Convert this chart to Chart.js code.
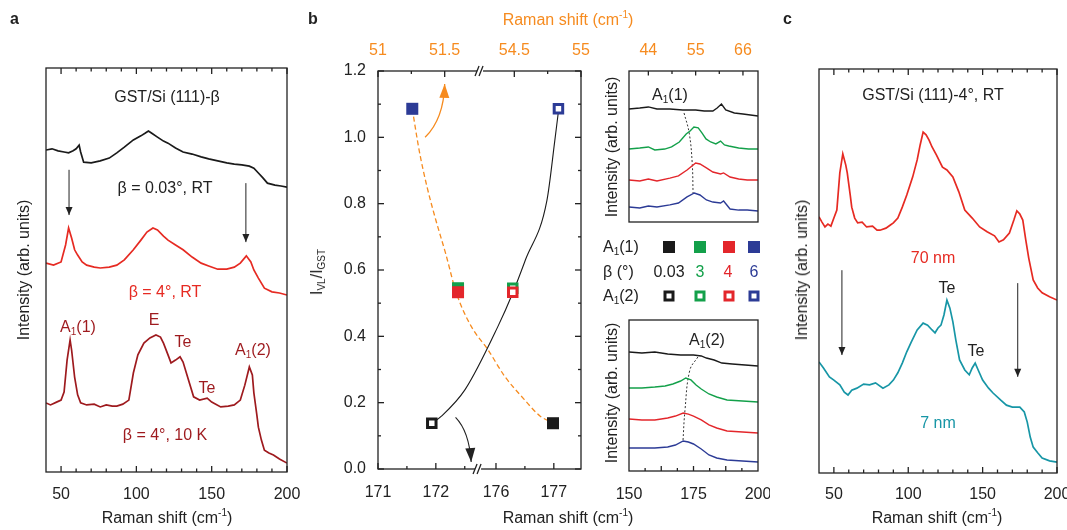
<!DOCTYPE html>
<html>
<head>
<meta charset="utf-8">
<script src="https://cdn.jsdelivr.net/npm/chart.js@4.4.1/dist/chart.umd.min.js"></script>
<style>
  body { margin: 0; background: #fff; }
  #page { position: relative; width: 1067px; height: 530px; overflow: hidden; font-family: "Liberation Sans", Arial, sans-serif; color: #222; }
  canvas { position: absolute; }
  .t { position: absolute; transform: translate(-50%, -50%); white-space: nowrap; font-size: 16px; line-height: 1; }
  .l { position: absolute; transform: translate(0, -50%); white-space: nowrap; font-size: 16px; line-height: 1; }
  .rot { transform: translate(-50%, -50%) rotate(-90deg); }
  .p { font-weight: bold; font-size: 16px; }
  sub { font-size: 10px; vertical-align: -3px; line-height: 0; }
  sup { font-size: 10px; vertical-align: 7px; line-height: 0; }
  .sq { position: absolute; width: 12px; height: 12px; transform: translate(-50%, -50%); box-sizing: border-box; }
  .op { width: 11px; height: 11px; border: 3px solid; background: #fff; }
</style>
</head>
<body>
<div id="page">
  <canvas id="chartA" width="300" height="530" style="left:0;top:0"></canvas>
  <canvas id="chartB" width="290" height="530" style="left:300px;top:0"></canvas>
  <canvas id="chartB1" width="180" height="230" style="left:590px;top:0"></canvas>
  <canvas id="chartB2" width="180" height="230" style="left:590px;top:300px"></canvas>
  <canvas id="chartC" width="287" height="530" style="left:780px;top:0"></canvas>

  <!-- panel a -->
  <div class="l p" style="left:10px;top:19px">a</div>
  <div class="t" style="left:167px;top:97px">GST/Si (111)-β</div>
  <div class="t" style="left:165px;top:188px">β = 0.03°, RT</div>
  <div class="t" style="left:165px;top:292px;color:#e62a22">β = 4°, RT</div>
  <div class="t" style="left:78px;top:327px;color:#9e1a1e">A<sub>1</sub>(1)</div>
  <div class="t" style="left:154px;top:320px;color:#9e1a1e">E</div>
  <div class="t" style="left:183px;top:342px;color:#9e1a1e">Te</div>
  <div class="t" style="left:207px;top:388px;color:#9e1a1e">Te</div>
  <div class="t" style="left:253px;top:350px;color:#9e1a1e">A<sub>1</sub>(2)</div>
  <div class="t" style="left:165px;top:435px;color:#9e1a1e">β = 4°, 10 K</div>
  <div class="t rot" style="left:24px;top:270px">Intensity (arb. units)</div>
  <div class="t" style="left:167px;top:518px">Raman shift (cm<sup>-1</sup>)</div>

  <!-- panel b -->
  <div class="l p" style="left:308px;top:19px">b</div>
  <div class="t" style="left:568px;top:20px;color:#f68b1f">Raman shift (cm<sup>-1</sup>)</div>
  <div class="t" style="left:568px;top:518px">Raman shift (cm<sup>-1</sup>)</div>
  <div class="t rot" style="left:317px;top:272px">I<sub>VL</sub>/I<sub>GST</sub></div>
  <div class="t rot" style="left:612px;top:147px">Intensity (arb. units)</div>
  <div class="t rot" style="left:612px;top:393px">Intensity (arb. units)</div>
  <div class="t" style="left:670px;top:95px">A<sub>1</sub>(1)</div>
  <div class="t" style="left:707px;top:340px">A<sub>1</sub>(2)</div>

  <div class="l" style="left:603px;top:247px">A<sub>1</sub>(1)</div>
  <div class="l" style="left:603px;top:272px">β (°)</div>
  <div class="l" style="left:603px;top:296px">A<sub>1</sub>(2)</div>
  <div class="sq" style="left:669px;top:247px;background:#1a1a1a"></div>
  <div class="sq" style="left:700px;top:247px;background:#13a04a"></div>
  <div class="sq" style="left:729px;top:247px;background:#e3262b"></div>
  <div class="sq" style="left:754px;top:247px;background:#2c3b96"></div>
  <div class="t" style="left:669px;top:272px">0.03</div>
  <div class="t" style="left:700px;top:272px;color:#13a04a">3</div>
  <div class="t" style="left:728px;top:272px;color:#e3262b">4</div>
  <div class="t" style="left:754px;top:272px;color:#2c3b96">6</div>
  <div class="sq op" style="left:669px;top:296px;border-color:#1a1a1a"></div>
  <div class="sq op" style="left:700px;top:296px;border-color:#13a04a"></div>
  <div class="sq op" style="left:729px;top:296px;border-color:#e3262b"></div>
  <div class="sq op" style="left:754px;top:296px;border-color:#2c3b96"></div>

  <!-- panel c -->
  <div class="l p" style="left:783px;top:19px">c</div>
  <div class="t" style="left:933px;top:95px">GST/Si (111)-4°, RT</div>
  <div class="t" style="left:933px;top:258px;color:#e62a22">70 nm</div>
  <div class="t" style="left:938px;top:423px;color:#1796a6">7 nm</div>
  <div class="t" style="left:947px;top:288px">Te</div>
  <div class="t" style="left:976px;top:351px">Te</div>
  <div class="t rot" style="left:802px;top:270px">Intensity (arb. units)</div>
  <div class="t" style="left:937px;top:518px">Raman shift (cm<sup>-1</sup>)</div>
</div>

<script>
// panel a: GST/Si (111) spectra, intensity in arb. units
const aBlackX = [40,44,48,52,55,58,60,62,63,65,70,76,82,87,92,98,103,106,108,110,114,118,121,126,131,137,143,148,154,160,165,170,175,178,181,184,187,192,196,200];
const aBlackY = [79.7,80.0,79.5,79.2,79.0,79.5,80.0,80.9,79.2,76.7,76.5,77.0,77.7,79.0,80.4,82.2,83.2,83.9,84.4,83.9,82.9,81.9,81.4,80.2,79.2,78.7,78.0,77.5,77.0,76.5,76.2,76.0,75.7,75.2,74.0,72.8,71.5,71.0,70.8,70.5];
const aRedX = [40,45,50,53,55,57,59,61,64,67,72,76,82,87,92,98,103,107,111,114,118,121,126,131,137,143,148,154,160,165,169,173,176,178,181,185,190,195,200];
const aRedY = [51.7,51.2,52.0,56.2,60.4,57.9,55.0,53.7,52.0,51.2,50.7,50.5,50.7,51.2,52.5,55.0,57.4,59.4,60.4,59.9,58.4,57.4,56.2,55.0,53.2,51.7,51.0,50.2,50.2,50.7,51.7,53.5,52.0,50.0,48.0,45.5,44.6,44.3,43.8];
const aLowX = [40,43,47,50,52,54,56,57,59,61,63,67,72,76,80,84,87,91,95,98,101,105,109,113,116,118,121,123,126,129,131,134,138,142,147,150,156,161,165,169,172,175,177,178,180,181,183,185,188,191,195,200];
const aLowY = [17.1,16.6,17.3,17.8,19.8,27.7,32.7,30.2,23.5,19.1,17.1,16.6,16.8,16.1,16.6,16.3,16.3,16.8,17.8,24.5,29.0,31.9,33.2,33.9,33.4,31.9,29.0,27.0,27.7,28.5,27.2,23.5,18.6,17.8,18.3,17.3,16.1,16.3,16.6,17.8,21.5,26.0,24.0,19.6,14.1,11.1,7.9,5.4,4.7,4.2,3.2,2.2];

// panel c: 70 nm and 7 nm films
const cRedX = [40,42,44,46,48,50,52,54,56,58,59,61,62,64,66,69,72,76,79,81,85,88,90,93,96,99,103,106,108,110,112,114,116,119,123,126,130,134,138,143,148,153,158,161,164,168,171,173,175,177,179,181,184,187,190,195,200];
const cRedY = [63.4,62.1,60.9,61.6,61.1,63.1,65.1,74.3,79.0,76.2,74.3,68.8,65.8,63.1,61.9,62.1,60.9,61.1,60.1,60.1,60.6,61.4,61.9,63.1,65.8,68.8,73.3,77.5,81.2,84.4,83.7,82.4,80.7,78.7,75.7,75.0,73.3,69.6,65.1,63.1,60.9,59.7,58.7,57.2,57.7,59.4,62.6,64.9,64.1,62.6,57.7,53.2,47.8,45.8,44.6,43.6,42.8];
const cTealX = [40,43,47,50,54,57,59.5,62,65.5,70,74,78,83,87,90,93,96,99,102,106,110,113,116,118,120,122,124,126,128,130,132,134.5,138,141,143,145,147,150,154,157,162,166,170,175,178,180,182,184,187,190,195,200];
const cTealY = [27.5,26.0,23.8,23.0,21.8,20.0,19.3,20.5,21.0,22.0,21.8,22.3,21.0,21.8,23.0,24.8,27.2,30.0,32.4,35.4,37.1,36.6,35.4,34.7,35.9,36.6,39.1,42.8,40.8,37.4,32.9,28.0,25.5,24.3,26.0,27.2,25.5,23.0,21.0,19.8,18.1,16.8,16.3,16.3,15.1,12.6,8.9,6.4,5.0,3.7,3.0,2.7];

// panel b upper inset: A1(1) region
const inTopBlackX = [39.5,42,44,46,49,52,55,57,59,60,61,62,64,66,69.5];
const inTopBlackY = [7.48,7.55,7.62,7.48,7.48,7.42,7.42,7.35,7.35,7.55,7.81,7.42,7.22,7.15,7.02];
const inTopGreenX = [39.5,42,44,45.5,47.8,49.4,51.2,52.8,53.7,54.6,55.6,56.5,57.4,58.5,59.7,60.8,61.7,62.7,65,67.3,69.5];
const inTopGreenY = [4.83,4.90,4.97,4.77,4.83,4.97,5.30,5.83,6.03,6.29,6.23,5.89,5.50,5.30,5.17,5.36,5.10,5.03,4.90,4.83,4.83];
const inTopRedX = [39.5,42,44,46,49,51,53,55,56,57.5,59,60.8,61.5,63,65,67,69.5];
const inTopRedY = [2.78,2.72,2.85,2.72,2.91,3.05,3.44,3.91,3.84,3.58,3.31,3.18,3.25,2.98,2.85,2.78,2.78];
const inTopBlueX = [39.5,42,44,46,49,51,53,54.7,56,57.5,59,60.8,61.5,63,65,67,69.5];
const inTopBlueY = [0.99,0.93,1.06,0.99,1.13,1.26,1.66,1.92,1.79,1.46,1.32,1.26,1.39,0.86,0.79,0.79,0.73];
const inTopGuideX = [52.3,53.5,54.2,54.4];
const inTopGuideY = [7.22,5.89,3.91,1.92];

// panel b lower inset: A1(2) region
const inBotBlackX = [150,155,160,165,170,175,178,180,183,186,190,195,200];
const inBotBlackY = [7.88,7.81,7.88,7.75,7.68,7.68,7.62,7.48,7.35,7.15,7.09,7.02,6.95];
const inBotGreenX = [150,155,160,164,167,170,172,174,176,178,181,184,188,194,200];
const inBotGreenY = [5.50,5.50,5.56,5.63,5.76,5.96,6.16,6.03,5.70,5.43,5.10,4.90,4.70,4.64,4.57];
const inBotRedX = [150,155,160,165,168,171,173,175,178,181,184,188,194,200];
const inBotRedY = [3.44,3.38,3.38,3.51,3.64,3.84,3.77,3.64,3.38,3.05,2.85,2.65,2.58,2.52];
const inBotBlueX = [150,155,160,165,168,171,173,175,178,181,184,188,194,200];
const inBotBlueY = [1.52,1.52,1.52,1.59,1.72,1.99,1.92,1.79,1.46,1.06,0.86,0.73,0.66,0.60];
const inBotGuideX = [176.7,173.6,171.7,170.9];
const inBotGuideY = [7.55,6.69,4.04,1.92];

// panel b main: I_VL/I_GST vs mode position, beta = 0.03, 3, 4, 6
const betaLabels = ['0.03', '3', '4', '6'];
const a1Shift = [54.79, 51.60, 51.60, 51.257];
const a2Shift = [171.93, 176.29, 176.29, 177.08];
const ivlRatio = [0.138, 0.545, 0.533, 1.086];
// guide curves
const a2GuideShift = [171.932, 172.102, 172.508, 176.034, 176.288, 176.508, 176.881, 177.017, 177.085];
const a2GuideRatio = [0.138, 0.16, 0.24, 0.43, 0.53, 0.63, 0.81, 0.99, 1.086];
const a1GuideShift = [51.257, 51.309, 51.368, 51.434, 51.507, 51.588, 51.699, 54.302, 54.427, 54.574, 54.692, 54.794];
const a1GuideRatio = [1.086, 0.96, 0.85, 0.75, 0.65, 0.53, 0.43, 0.36, 0.28, 0.21, 0.16, 0.138];

// tick labels
const specTicks = [50, 100, 150, 200];
const specMinor = [60, 70, 80, 90, 110, 120, 130, 140, 160, 170, 180, 190];
const inTopTicks = [44, 55, 66];
const inTopMinor = [49.5, 60.5];
const inBotTicks = [150, 175, 200];
const inBotMajor = [162.5, 175, 187.5];
const inBotMinor = [156.25, 168.75, 181.25, 193.75];
const bBotTicks = [171, 172, 176, 177];
const bBotMinor = [171.5, 172.5, 176.5];
const bTopTicks = [51, 51.5, 54.5, 55];
const bTopTickLabels = ['51', '51.5', '54.5', '55'];
const bTopMinor = [51.25, 54.75];
const ratioTicks = [0, 0.2, 0.4, 0.6, 0.8, 1.0, 1.2];
const ratioMinor = [0.1, 0.3, 0.5, 0.7, 0.9, 1.1];

// broken axes of panel b: two segments each, same scale inside an axis
const bBotSegs = [[171, 172.73], [175.69, 177.47]];
const bTopSegs = [[51, 51.765], [54.243, 55.0]];

const C = {
    black: '#1a1a1a', red: '#e62a22', darkRed: '#9e1a1e',
    green: '#13a04a', red2: '#e3262b', blue: '#2c3b96',
    teal: '#1796a6', orange: '#f68b1f'
};
const FONT = '"Liberation Sans", Arial, sans-serif';
const FS = 16;
Chart.defaults.font.family = FONT;
Chart.defaults.color = '#222';

// position (0..1) of a value on a broken axis
function segPos(segs, v) {
    const total = segs.reduce((s, g) => s + g[1] - g[0], 0);
    let off = 0;
    for (let i = 0; i < segs.length; i++) {
        const g = segs[i];
        if (i === segs.length - 1 || v <= g[1] + (segs[i + 1][0] - g[1]) / 2) {
            return (off + v - g[0]) / total;
        }
        off += g[1] - g[0];
    }
}

function pts(xs, ys) {
    return xs.map((x, i) => ({ x: x, y: ys[i] }));
}

function line(xs, ys, color, extra) {
    return Object.assign({
        data: pts(xs, ys), borderColor: color, borderWidth: 1.7,
        pointRadius: 0, fill: false, tension: 0
    }, extra || {});
}

function xAxis(min, max, ticks, labels, o) {
    return {
        type: 'linear', position: o.position || 'bottom', min: min, max: max,
        afterBuildTicks: s => { s.ticks = ticks.map(v => ({ value: v })); },
        afterFit: s => { s.height = o.height; s.paddingLeft = 0; s.paddingRight = 0; },
        ticks: {
            autoSkip: false, maxRotation: 0, padding: o.padding, color: o.color || '#222',
            font: { size: FS, family: FONT }, callback: (v, i) => labels[i]
        },
        grid: { display: false, drawTicks: false },
        border: { display: false }
    };
}

function options(padding, scales, frame, arrows) {
    return {
        responsive: false, animation: false, devicePixelRatio: 1,
        layout: { padding: padding },
        scales: scales,
        plugins: {
            legend: { display: false }, tooltip: { enabled: false },
            frame: frame, arrows: { list: arrows || [] }
        }
    };
}

// box with inward ticks and axis breaks
const framePlugin = {
    id: 'frame',
    afterDatasetsDraw(chart, args, opts) {
        const ctx = chart.ctx, a = chart.chartArea;
        ctx.save();
        ctx.strokeStyle = '#222';
        ctx.lineWidth = 1.3;
        ctx.strokeRect(a.left, a.top, a.right - a.left, a.bottom - a.top);
        (opts.ticks || []).forEach(t => {
            const sc = chart.scales[t.scale];
            t.values.forEach(v => {
                const p = sc.getPixelForValue(v);
                ctx.beginPath();
                if (t.side === 'bottom') { ctx.moveTo(p, a.bottom); ctx.lineTo(p, a.bottom - t.len); }
                if (t.side === 'top') { ctx.moveTo(p, a.top); ctx.lineTo(p, a.top + t.len); }
                if (t.side === 'left') { ctx.moveTo(a.left, p); ctx.lineTo(a.left + t.len, p); }
                if (t.side === 'right') { ctx.moveTo(a.right, p); ctx.lineTo(a.right - t.len, p); }
                ctx.stroke();
            });
        });
        (opts.breaks || []).forEach(b => {
            const x = chart.scales.x.getPixelForValue(b.value);
            const y = b.side === 'top' ? a.top : a.bottom;
            ctx.fillStyle = '#fff';
            ctx.fillRect(x - 3, y - 2, 6, 4);
            ctx.beginPath();
            ctx.moveTo(x - 5, y + 5); ctx.lineTo(x - 1, y - 5);
            ctx.moveTo(x - 1, y + 5); ctx.lineTo(x + 3, y - 5);
            ctx.stroke();
        });
        ctx.restore();
    }
};

// arrows drawn in data space
const arrowPlugin = {
    id: 'arrows',
    afterDatasetsDraw(chart, args, opts) {
        const ctx = chart.ctx, sx = chart.scales.x, sy = chart.scales.y;
        (opts.list || []).forEach(ar => {
            const p = ar.pts.map(q => [sx.getPixelForValue(q[0]), sy.getPixelForValue(q[1])]);
            const tip = p[p.length - 1], from = p[p.length - 2];
            ctx.save();
            ctx.strokeStyle = ar.color;
            ctx.fillStyle = ar.color;
            ctx.lineWidth = ar.width;
            ctx.beginPath();
            ctx.moveTo(p[0][0], p[0][1]);
            if (p.length === 3) ctx.quadraticCurveTo(p[1][0], p[1][1], tip[0], tip[1]);
            else ctx.lineTo(tip[0], tip[1]);
            ctx.stroke();
            ctx.translate(tip[0], tip[1]);
            ctx.rotate(Math.atan2(tip[1] - from[1], tip[0] - from[0]));
            ctx.beginPath();
            ctx.moveTo(0, 0);
            ctx.lineTo(-ar.head, -ar.half);
            ctx.lineTo(-ar.head, ar.half);
            ctx.closePath();
            ctx.fill();
            ctx.restore();
        });
    }
};

const plugins = [framePlugin, arrowPlugin];

function specFrame() {
    return {
        ticks: [
            { side: 'bottom', scale: 'x', values: specTicks, len: 6 },
            { side: 'bottom', scale: 'x', values: specMinor, len: 3.5 },
            { side: 'top', scale: 'x', values: specTicks, len: 6 },
            { side: 'top', scale: 'x', values: specMinor, len: 3.5 }
        ]
    };
}

// panel a
new Chart(document.getElementById('chartA'), {
    type: 'line',
    data: { datasets: [
        line(aBlackX, aBlackY, C.black),
        line(aRedX, aRedY, C.red),
        line(aLowX, aLowY, C.darkRed)
    ] },
    options: options(
        { left: 46, right: 13, top: 68, bottom: 0 },
        {
            x: xAxis(40, 200, specTicks, specTicks.map(String), { height: 58, padding: 13 }),
            y: { display: false, min: 0, max: 100 }
        },
        specFrame(),
        [
            { pts: [[55.3, 74.8], [55.3, 63.6]], color: '#222', width: 1, head: 8, half: 3.5 },
            { pts: [[172.7, 71.5], [172.7, 56.9]], color: '#222', width: 1, head: 8, half: 3.5 }
        ]
    ),
    plugins: plugins
});

// panel c
new Chart(document.getElementById('chartC'), {
    type: 'line',
    data: { datasets: [
        line(cRedX, cRedY, C.red),
        line(cTealX, cTealY, C.teal)
    ] },
    options: options(
        { left: 39, right: 10, top: 69, bottom: 0 },
        {
            x: xAxis(40, 200, specTicks, specTicks.map(String), { height: 57, padding: 12 }),
            y: { display: false, min: 0, max: 100 }
        },
        specFrame(),
        [
            { pts: [[55.4, 50.2], [55.4, 29.2]], color: '#222', width: 1, head: 8, half: 3.5 },
            { pts: [[173.6, 47.0], [173.6, 23.8]], color: '#222', width: 1, head: 8, half: 3.5 }
        ]
    ),
    plugins: plugins
});

// panel b main: markers first so they sit on top of the guide curves
const botPos = v => segPos(bBotSegs, v);
const topPos = v => segPos(bTopSegs, v);
const markerColors = [C.black, C.green, C.red2, C.blue];

new Chart(document.getElementById('chartB'), {
    type: 'line',
    data: { datasets: [
        {
            data: pts(a1Shift.map(topPos), ivlRatio), showLine: false,
            pointStyle: 'rect', pointRadius: 8.5, pointBorderWidth: 0,
            pointBackgroundColor: markerColors, pointBorderColor: markerColors
        },
        {
            data: pts(a2Shift.map(botPos), ivlRatio), showLine: false,
            pointStyle: 'rect', pointRadius: 6, pointBorderWidth: 3,
            pointBackgroundColor: '#fff', pointBorderColor: markerColors
        },
        line(a2GuideShift.map(botPos), a2GuideRatio, C.black,
            { borderWidth: 1.1, tension: 0.4, cubicInterpolationMode: 'monotone' }),
        line(a1GuideShift.map(topPos), a1GuideRatio, C.orange,
            { borderWidth: 1.3, borderDash: [5, 3], tension: 0.4, cubicInterpolationMode: 'monotone' })
    ] },
    options: options(
        { left: 0, right: 5, top: 0, bottom: 0 },
        {
            x: xAxis(0, 1, bBotTicks.map(botPos), bBotTicks.map(String), { height: 61, padding: 14 }),
            x2: xAxis(0, 1, bTopTicks.map(topPos), bTopTickLabels,
                { position: 'top', height: 71, padding: 11, color: C.orange }),
            y: {
                min: 0, max: 1.2,
                afterBuildTicks: s => { s.ticks = ratioTicks.map(v => ({ value: v })); },
                afterFit: s => { s.width = 78; s.paddingTop = 0; s.paddingBottom = 0; },
                ticks: { padding: 12, font: { size: FS, family: FONT }, callback: v => v.toFixed(1) },
                grid: { display: false, drawTicks: false },
                border: { display: false }
            }
        },
        {
            ticks: [
                { side: 'bottom', scale: 'x', values: bBotTicks.map(botPos), len: 6 },
                { side: 'bottom', scale: 'x', values: bBotMinor.map(botPos), len: 3 },
                { side: 'top', scale: 'x', values: bTopTicks.map(topPos), len: 6 },
                { side: 'top', scale: 'x', values: bTopMinor.map(topPos), len: 3 },
                { side: 'left', scale: 'y', values: ratioTicks, len: 6 },
                { side: 'left', scale: 'y', values: ratioMinor, len: 3 },
                { side: 'right', scale: 'y', values: ratioTicks, len: 6 },
                { side: 'right', scale: 'y', values: ratioMinor, len: 3 }
            ],
            breaks: [
                { side: 'bottom', value: botPos(172.73) },
                { side: 'top', value: topPos(51.765) }
            ]
        },
        [
            { pts: [[0.232, 1.0], [0.324, 1.056], [0.3285, 1.161]], color: C.orange, width: 1.3, head: 14, half: 5 },
            { pts: [[0.382, 0.156], [0.449, 0.114], [0.459, 0.021]], color: '#222', width: 1.1, head: 14, half: 5 }
        ]
    ),
    plugins: plugins
});

// panel b upper inset
new Chart(document.getElementById('chartB1'), {
    type: 'line',
    data: { datasets: [
        line(inTopBlackX, inTopBlackY, C.black, { borderWidth: 1.4 }),
        line(inTopGreenX, inTopGreenY, C.green, { borderWidth: 1.4 }),
        line(inTopRedX, inTopRedY, C.red2, { borderWidth: 1.4 }),
        line(inTopBlueX, inTopBlueY, C.blue, { borderWidth: 1.4 }),
        line(inTopGuideX, inTopGuideY, '#333', { borderWidth: 1, borderDash: [2, 2], tension: 0.4 })
    ] },
    options: options(
        { left: 39, right: 12, top: 0, bottom: 8 },
        {
            x: xAxis(39.5, 69.5, inTopTicks, inTopTicks.map(String),
                { position: 'top', height: 71, padding: 11, color: C.orange }),
            y: { display: false, min: 0, max: 10 }
        },
        {
            ticks: [
                { side: 'top', scale: 'x', values: inTopTicks, len: 4.5 },
                { side: 'top', scale: 'x', values: inTopMinor, len: 3 }
            ]
        }
    ),
    plugins: plugins
});

// panel b lower inset
new Chart(document.getElementById('chartB2'), {
    type: 'line',
    data: { datasets: [
        line(inBotBlackX, inBotBlackY, C.black, { borderWidth: 1.4 }),
        line(inBotGreenX, inBotGreenY, C.green, { borderWidth: 1.4 }),
        line(inBotRedX, inBotRedY, C.red2, { borderWidth: 1.4 }),
        line(inBotBlueX, inBotBlueY, C.blue, { borderWidth: 1.4 }),
        line(inBotGuideX, inBotGuideY, '#333', { borderWidth: 1, borderDash: [2, 2], tension: 0.4 })
    ] },
    options: options(
        { left: 39, right: 12, top: 20, bottom: 0 },
        {
            x: xAxis(150, 200, inBotTicks, inBotTicks.map(String), { height: 59, padding: 14 }),
            y: { display: false, min: 0, max: 10 }
        },
        {
            ticks: [
                { side: 'bottom', scale: 'x', values: inBotMajor, len: 5 },
                { side: 'bottom', scale: 'x', values: inBotMinor, len: 3 }
            ]
        }
    ),
    plugins: plugins
});
</script>
</body>
</html>
